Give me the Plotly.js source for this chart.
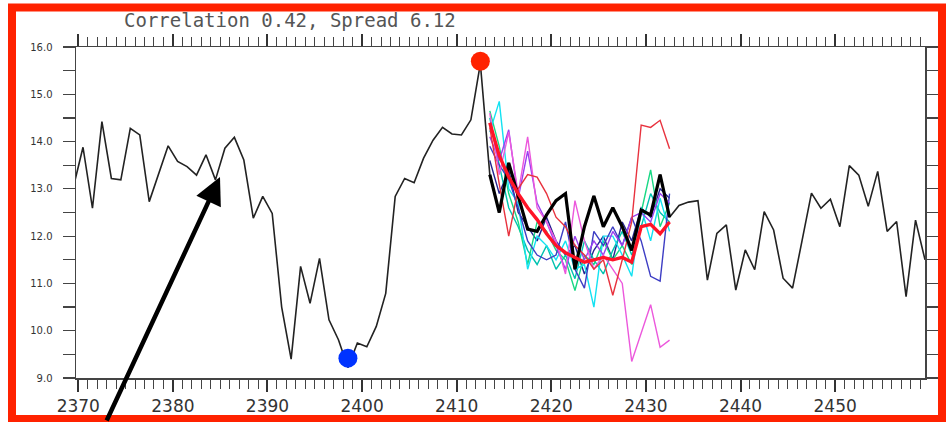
<!DOCTYPE html>
<html>
<head>
<meta charset="utf-8">
<script src="https://cdn.plot.ly/plotly-3.0.1.min.js"></script>
<style>
html,body{margin:0;padding:0;background:#fff;}
#chart{width:949px;height:422px;}
</style>
</head>
<body>
<div id="chart"></div>
<script>
// ---- data ----
const obsYears = [2369.5,2370.5,2371.5,2372.5,2373.5,2374.5,2375.5,2376.5,2377.5,2378.5,2379.5,2380.5,2381.5,2382.5,2383.5,2384.5,2385.5,2386.5,2387.5,2388.5,2389.5,2390.5,2391.5,2392.5,2393.5,2394.5,2395.5,2396.5,2397.5,2398.5,2399.5,2400.5,2401.5,2402.5,2403.5,2404.5,2405.5,2406.5,2407.5,2408.5,2409.5,2410.5,2411.5,2412.5,2413.5,2414.5,2415.5,2416.5,2417.5,2418.5,2419.5,2420.5,2421.5,2422.5,2423.5,2424.5,2425.5,2426.5,2427.5,2428.5,2429.5,2430.5,2431.5,2432.5,2433.5,2434.5,2435.5,2436.5,2437.5,2438.5,2439.5,2440.5,2441.5,2442.5,2443.5,2444.5,2445.5,2446.5,2447.5,2448.5,2449.5,2450.5,2451.5,2452.5,2453.5,2454.5,2455.5,2456.5,2457.5,2458.5,2459.5];
const obsValues = [13.05,13.88,12.59,14.42,13.22,13.19,14.28,14.14,12.73,13.33,13.91,13.58,13.47,13.29,13.72,13.19,13.86,14.09,13.61,12.38,12.84,12.48,10.5,9.40,11.36,10.58,11.53,10.23,9.81,9.22,9.74,9.66,10.09,10.79,12.84,13.22,13.13,13.65,14.03,14.30,14.16,14.14,14.46,15.65,13.3,12.5,13.55,12.85,12.15,12.1,12.45,12.75,12.9,11.3,12.2,12.85,12.2,12.6,12.2,11.7,12.55,12.45,13.3,12.4,12.65,12.72,12.75,11.07,12.06,12.24,10.86,11.71,11.29,12.52,12.13,11.11,10.90,11.9,12.91,12.59,12.78,12.20,13.49,13.29,12.63,13.37,12.10,12.31,10.72,12.34,11.50];

const fcYears = [2413.5,2414.5,2415.5,2416.5,2417.5,2418.5,2419.5,2420.5,2421.5,2422.5,2423.5,2424.5,2425.5,2426.5,2427.5,2428.5,2429.5,2430.5,2431.5,2432.5];
const memberNavy    = [13.6,12.9,13.4,12.5,12.2,11.9,12.4,11.9,11.6,11.8,11.2,11.7,12.0,11.5,12.3,11.9,12.6,12.4,13.0,12.8];
const memberTeal    = [14.5,13.5,12.6,12.2,11.7,11.4,11.8,11.3,11.6,11.1,11.9,11.5,11.2,11.7,12.1,11.6,12.2,12.9,12.5,12.3];
const memberGreen   = [14.65,13.9,12.9,12.3,11.4,12.3,12.1,11.7,11.5,10.85,11.6,11.4,11.9,11.5,11.8,11.4,12.5,13.4,12.2,12.7];
const memberCyan    = [14.2,14.85,13.0,12.7,11.3,12.0,11.8,11.5,11.9,11.3,11.4,10.5,12.0,12.0,11.6,11.15,12.6,11.9,12.8,12.1];
const memberBlue    = [13.9,13.5,13.2,12.6,11.9,11.6,11.5,11.6,12.3,11.3,10.9,12.1,11.8,12.2,11.8,12.4,11.9,11.15,11.05,12.9];
const memberViolet  = [14.1,13.6,14.25,12.8,13.8,12.7,12.3,11.8,11.3,12.0,11.5,11.9,11.6,12.1,11.8,12.4,12.5,12.3,12.9,12.7];
const memberMagenta = [14.6,13.3,14.2,12.9,14.1,12.6,12.3,11.9,11.2,12.75,11.9,11.3,11.6,11.3,11.0,9.35,9.95,10.55,9.65,9.8];
const memberCrimson = [14.3,13.1,12.0,13.0,13.3,13.25,12.9,12.4,12.2,11.8,11.6,11.3,11.5,10.75,11.5,12.3,14.35,14.3,14.45,13.85];
const ensembleMean  = [14.4,13.7,13.25,12.9,12.6,12.35,12.05,11.8,11.65,11.55,11.45,11.5,11.55,11.5,11.55,11.45,12.2,12.25,12.05,12.3];

const peakYear = [2412.5], peakValue = [15.70];
const troughYear = [2398.5], troughValue = [9.42];

const titleText = "Correlation 0.42, Spread 6.12";
const xTickVals = [2370,2380,2390,2400,2410,2420,2430,2440,2450];
const yTickVals = [9,10,11,12,13,14,15,16];

// ---- traces ----
const members = [
  {y: memberNavy, c: '#23238f'},
  {y: memberTeal, c: '#00c2b0'},
  {y: memberGreen, c: '#18d884'},
  {y: memberCyan, c: '#12e2f2'},
  {y: memberBlue, c: '#3d3dc4'},
  {y: memberViolet, c: '#9a3ff0'},
  {y: memberMagenta, c: '#ec58dc'},
  {y: memberCrimson, c: '#e8323e'}
];
const traces = [];
traces.push({x: obsYears, y: obsValues, mode: 'lines', line: {color: '#222', width: 1.6}, hoverinfo: 'skip'});
members.forEach(m => traces.push({x: fcYears, y: m.y, mode: 'lines', line: {color: m.c, width: 1.4}, hoverinfo: 'skip'}));
const fcStart = fcYears[0], fcEnd = fcYears[fcYears.length - 1];
const thickX = [], thickY = [];
obsYears.forEach((yr, i) => { if (yr >= fcStart && yr <= fcEnd) { thickX.push(yr); thickY.push(obsValues[i]); } });
traces.push({x: thickX, y: thickY, mode: 'lines', line: {color: '#000', width: 3.2}, hoverinfo: 'skip'});
traces.push({x: fcYears, y: ensembleMean, mode: 'lines', line: {color: '#ff1428', width: 3.4}, hoverinfo: 'skip'});
traces.push({x: peakYear, y: peakValue, mode: 'markers', marker: {color: '#ff2200', size: 19}, cliponaxis: false, hoverinfo: 'skip'});
traces.push({x: troughYear, y: troughValue, mode: 'markers', marker: {color: '#0033ff', size: 19}, cliponaxis: false, hoverinfo: 'skip'});

const L = 76, R = 24, T = 47, B = 44, W = 949, H = 422;
const pw = W - L - R, ph = H - T - B;
const px = v => (v - L) / pw;
const py = v => (H - B - v) / ph;

const layout = {
  width: W, height: H,
  margin: {l: L, r: R, t: T, b: B, pad: 0},
  paper_bgcolor: '#fff', plot_bgcolor: '#fff',
  showlegend: false,
  xaxis: {
    range: [2369.76, 2459.5],
    tickvals: xTickVals, ticktext: xTickVals.map(String),
    ticks: 'outside', ticklen: 12, tickwidth: 2, tickcolor: '#333',
    minor: {ticks: 'outside', dtick: 1, tick0: 2370, ticklen: 9, tickwidth: 1, tickcolor: '#444', showgrid: false},
    showline: true, linecolor: '#444', linewidth: 1.5, mirror: 'ticks',
    showgrid: false, zeroline: false,
    tickfont: {family: 'DejaVu Sans', size: 17, color: '#333'},
    ticklabelstandoff: 0
  },
  yaxis: {
    range: [9, 16],
    tickvals: yTickVals, tickformat: '.1f',
    ticks: 'outside', ticklen: 12, tickwidth: 1.2, tickcolor: '#444',
    minor: {ticks: 'outside', dtick: 0.5, tick0: 9, ticklen: 12, tickwidth: 1.2, tickcolor: '#444', showgrid: false},
    showline: true, linecolor: '#444', linewidth: 1.5, mirror: 'ticks',
    showgrid: false, zeroline: false,
    tickfont: {family: 'DejaVu Sans', size: 10, color: '#333'},
    ticklabelstandoff: 8
  },
  annotations: [
    {xref: 'paper', yref: 'paper', x: px(290), y: py(20), text: titleText, showarrow: false,
     xanchor: 'center', yanchor: 'middle', font: {family: 'DejaVu Sans Mono', size: 19, color: '#555'}},
    {x: 2384.98, y: 13.25, xref: 'x', yref: 'y', text: '', showarrow: true,
     arrowhead: 2, arrowsize: 1.2, arrowwidth: 4.5, arrowcolor: '#000', ax: -114, ay: 258}
  ],
  shapes: [
    {type: 'rect', xref: 'paper', yref: 'paper', x0: px(12), x1: px(942), y0: py(419), y1: py(7.5),
     line: {color: '#ff2200', width: 8}, fillcolor: 'rgba(0,0,0,0)', layer: 'above'}
  ]
};

Plotly.newPlot('chart', traces, layout, {staticPlot: true, displayModeBar: false});
</script>
</body>
</html>
